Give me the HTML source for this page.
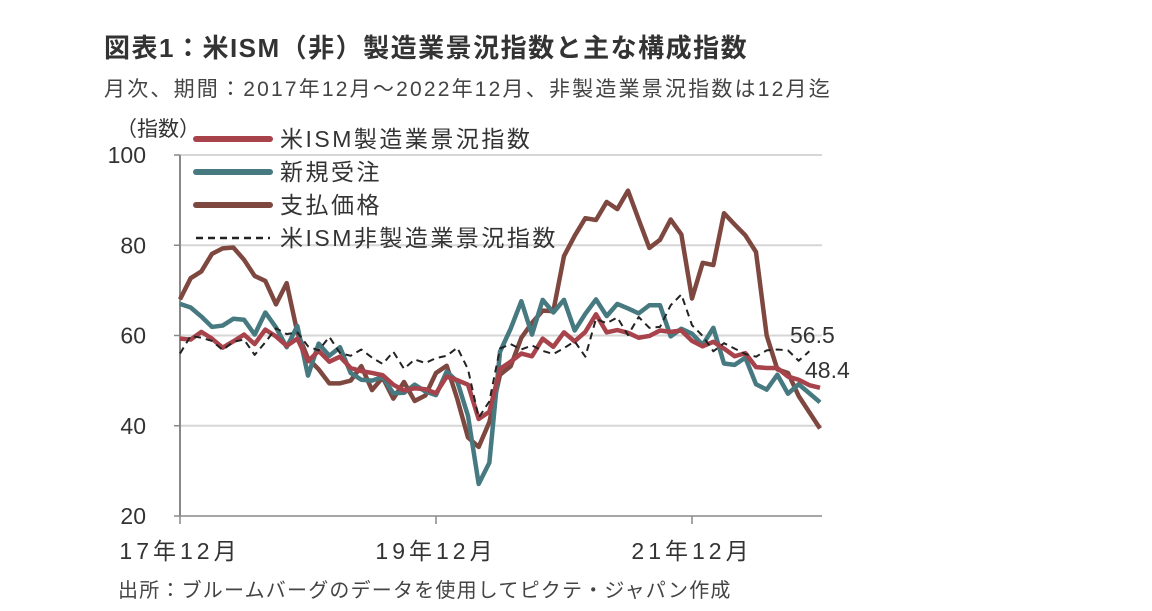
<!DOCTYPE html>
<html><head><meta charset="utf-8">
<style>
body{margin:0;background:#fff;width:1152px;height:611px;overflow:hidden;font-family:"Liberation Sans","Noto Sans CJK JP",sans-serif;color:#333}
.t{position:absolute;white-space:nowrap}
</style></head>
<body>
<div class="t" style="left:104px;top:28px;font-size:26px;font-weight:bold;color:#333;letter-spacing:1.5px">図表1：米ISM（非）製造業景況指数と主な構成指数</div>
<div class="t" style="left:104px;top:73px;font-size:21px;color:#444;letter-spacing:2.2px">月次、期間：2017年12月～2022年12月、非製造業景況指数は12月迄</div>
<div class="t" style="left:118px;top:574px;font-size:20px;color:#444;letter-spacing:1.2px">出所：ブルームバーグのデータを使用してピクテ・ジャパン作成</div>
<svg id="chart" width="1152" height="611" style="position:absolute;left:0;top:0"></svg>
<script>
const xLabels=["17年12月","19年12月","21年12月"];
const xLabelIdx=[0,24,48];
const yTicks=[20,40,60,80,100];
const mfg=[59.3,59.1,60.8,59.3,57.3,58.7,60.2,58.1,61.3,59.8,57.7,59.3,54.3,56.6,54.2,55.3,52.8,52.1,51.7,51.2,49.1,47.8,48.3,48.1,47.2,50.9,50.1,49.1,41.5,43.1,52.6,54.2,56.0,55.4,59.3,57.5,60.7,58.7,60.8,64.7,60.7,61.2,60.6,59.5,59.9,61.1,60.8,61.1,58.8,57.6,58.6,57.1,55.4,56.1,53.0,52.8,52.8,50.9,50.2,49.0,48.4];
const orders=[67.0,66.2,64.2,61.9,62.2,63.7,63.5,60.2,65.1,61.8,57.4,62.1,51.1,58.2,55.5,57.4,51.7,50.2,50.0,50.8,47.2,47.3,49.1,47.6,46.8,52.0,49.8,42.2,27.1,31.8,56.4,61.5,67.6,60.2,67.9,65.1,67.9,61.1,64.8,68.0,64.3,67.0,66.0,64.9,66.7,66.7,59.8,61.5,60.4,57.9,61.7,53.8,53.5,55.1,49.2,48.0,51.3,47.1,49.2,47.2,45.2];
const prices=[68.0,72.7,74.2,78.1,79.3,79.5,76.8,73.2,72.1,66.9,71.6,60.7,54.9,52.5,49.4,49.4,50.0,53.2,47.9,50.7,46.0,49.7,45.5,46.7,51.7,53.3,45.9,37.4,35.3,40.8,51.3,53.2,59.5,62.8,65.5,65.4,77.6,82.1,86.0,85.6,89.6,88.0,92.1,85.7,79.4,81.2,85.7,82.4,68.2,76.1,75.6,87.1,84.6,82.2,78.5,60.0,52.5,51.7,46.6,43.0,39.4];
const nonmfg=[56.0,59.9,59.5,58.8,56.8,58.6,59.1,55.7,58.5,61.6,60.3,60.7,57.6,56.7,59.7,56.1,55.5,56.9,55.1,53.7,56.4,52.6,54.7,53.9,55.0,55.5,57.3,52.5,41.8,45.4,57.1,58.1,56.9,57.8,56.6,55.9,57.2,58.7,55.3,63.7,62.7,64.0,60.1,64.1,61.7,61.9,66.7,69.1,62.3,59.9,56.5,58.3,57.1,55.9,55.3,56.7,56.9,56.7,54.4,56.5];
const NS="http://www.w3.org/2000/svg";
const svg=document.getElementById('chart');
const X=i=>180+i*(640/60);
const Y=v=>516-(v-20)*(361/80);
function el(tag,attrs,parent){const e=document.createElementNS(NS,tag);for(const k in attrs)e.setAttribute(k,attrs[k]);(parent||svg).appendChild(e);return e;}
yTicks.forEach(v=>{
  if(v>20){const g=el('line',{x1:180,x2:822,y1:Y(v),y2:Y(v),stroke:'#d6d6d6','stroke-width':2});
  
  }
  el('line',{x1:174,x2:180,y1:Y(v),y2:Y(v),stroke:'#888','stroke-width':1.5});
  const t=el('text',{x:146,y:Y(v)+8,'text-anchor':'end','font-size':23,fill:'#333'});
  t.textContent=v;
  
  
});
const ax=el('line',{x1:180,x2:180,y1:155,y2:516,stroke:'#888','stroke-width':2});


const xa=el('line',{x1:180,x2:822,y1:516,y2:516,stroke:'#888','stroke-width':1.5});


xLabels.forEach((l,k)=>{
  const x=X(xLabelIdx[k]);
  el('line',{x1:x,x2:x,y1:516,y2:524,stroke:'#888','stroke-width':1.5});
  const t=el('text',{x:x,y:559,'text-anchor':'middle','font-size':23,'letter-spacing':4,fill:'#333'});
  t.textContent=l;
  
  
});
const yt=el('text',{x:116,y:136,'font-size':21,fill:'#333'});
yt.textContent='（指数）';


function line(data,color,w,dash,name){
  const p=el('polyline',{points:data.map((v,i)=>X(i)+','+Y(v)).join(' '),fill:'none',stroke:color,'stroke-width':w,'stroke-linejoin':'round'});
  if(dash)p.setAttribute('stroke-dasharray',dash);
  
  
}
line(prices,'#7e4840',4.5,null,'series-prices');
line(orders,'#467a80',4.5,null,'series-new-orders');
line(mfg,'#a8424b',4.5,null,'series-ism-manufacturing');
line(nonmfg,'#222',2,'7,5','series-ism-non-manufacturing');
const a1=el('text',{x:790,y:343,'font-size':23,fill:'#333'});a1.textContent='56.5';


const a2=el('text',{x:805,y:378,'font-size':23,fill:'#333'});a2.textContent='48.4';


const leg=[['米ISM製造業景況指数','#a8424b',null],['新規受注','#467a80',null],['支払価格','#7e4840',null],['米ISM非製造業景況指数','#222','7,5']];
leg.forEach((e,i)=>{
  const y=139+i*33;
  const l=el('line',{x1:196,x2:270,y1:y,y2:y,stroke:e[1],'stroke-width':e[2]?2.5:6,'stroke-linecap':e[2]?'butt':'round'});
  if(e[2])l.setAttribute('stroke-dasharray',e[2]);
  const t=el('text',{x:280,y:y+8,'font-size':23,'letter-spacing':2.5,fill:'#333'});t.textContent=e[0];
  
  
});
</script>
</body></html>
